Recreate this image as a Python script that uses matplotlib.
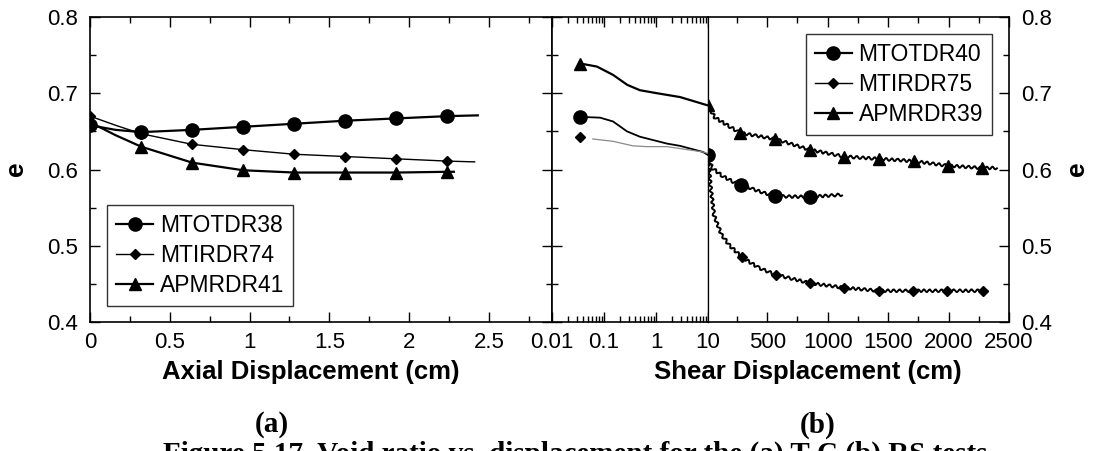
import matplotlib
matplotlib.use("Agg")
import matplotlib.pyplot as plt
from matplotlib.ticker import FixedLocator, MultipleLocator, NullFormatter, LogLocator
from matplotlib.lines import Line2D

plt.rcParams['font.family'] = ['Liberation Sans', 'DejaVu Sans']

# ---------------- (a) axial displacement ----------------
a_x_38 = [0, 0.16, 0.32, 0.64, 0.96, 1.28, 1.60, 1.92, 2.24, 2.43]
a_e_38 = [0.658, 0.652, 0.649, 0.652, 0.656, 0.660, 0.664, 0.667, 0.670, 0.671]
a_mk_38 = [0, 2, 3, 4, 5, 6, 7, 8]

a_x_74 = [0, 0.16, 0.32, 0.64, 0.96, 1.28, 1.60, 1.92, 2.24, 2.41]
a_e_74 = [0.670, 0.658, 0.647, 0.633, 0.626, 0.620, 0.617, 0.614, 0.611, 0.610]
a_mk_74 = [0, 2, 3, 4, 5, 6, 7, 8]

a_x_41 = [0, 0.16, 0.32, 0.64, 0.96, 1.28, 1.60, 1.92, 2.24, 2.28]
a_e_41 = [0.662, 0.645, 0.630, 0.609, 0.599, 0.596, 0.596, 0.596, 0.597, 0.597]
a_mk_41 = [2, 3, 4, 5, 6, 7, 8]

# ---------------- (b) shear displacement, log part (0.01-10 cm) ----------------
b_log_x_40 = [0.035, 0.084, 0.149, 0.277, 0.49, 1.62, 2.9, 8.0, 10]
b_log_e_40 = [0.669, 0.668, 0.663, 0.650, 0.643, 0.634, 0.631, 0.623, 0.619]

b_log_x_75 = [0.061, 0.149, 0.36, 0.67, 1.62, 8.0, 10]
b_log_e_75 = [0.640, 0.637, 0.631, 0.630, 0.630, 0.623, 0.621]
b_log_first_75 = (0.035, 0.642)

b_log_x_39 = [0.035, 0.073, 0.15, 0.28, 0.49, 1.05, 2.9, 10]
b_log_e_39 = [0.739, 0.735, 0.724, 0.711, 0.704, 0.700, 0.695, 0.684]

# ---------------- (b) shear displacement, linear part (10-2500 cm) ----------------
b_lin_x_40 = [10, 43, 134, 217, 283, 440, 564, 853, 1118]
b_lin_e_40 = [0.619, 0.602, 0.591, 0.584, 0.580, 0.571, 0.565, 0.564, 0.567]
b_lin_mk_40 = [0, 4, 6, 7]

b_lin_x_75 = [10, 30, 60, 120, 190, 291, 430, 572, 853, 1134, 1424, 1705, 1986, 2284, 2320]
b_lin_e_75 = [0.621, 0.580, 0.540, 0.515, 0.500, 0.485, 0.471, 0.462, 0.451, 0.445,
              0.441, 0.441, 0.441, 0.441, 0.442]
b_lin_mk_75 = [0, 5, 7, 8, 9, 10, 11, 12, 13]

b_lin_x_39 = [10, 68, 192, 275, 565, 850, 1135, 1425, 1710, 1995, 2280, 2400]
b_lin_e_39 = [0.684, 0.668, 0.656, 0.648, 0.640, 0.626, 0.617, 0.614, 0.611, 0.605, 0.602, 0.602]
b_lin_mk_39 = [0, 3, 4, 5, 6, 7, 8, 9, 10]

W, H = 1093, 451
fig = plt.figure(figsize=(W / 100, H / 100), dpi=100)

bottom = 1 - 322 / H
height = 305 / H
ax_a = fig.add_axes([90 / W, bottom, 462 / W, height])
ax_log = fig.add_axes([552 / W, bottom, 156 / W, height])
ax_lin = fig.add_axes([708 / W, bottom, 301 / W, height])

TICK_FS = 16
LW_SPINE = 1.2

circ = dict(marker='o', markersize=9.5, color='black')
diam = dict(marker='D', markersize=5.5, color='black')
tri = dict(marker='^', markersize=8.5, color='black')

# panel (a)
ax_a.plot(a_x_38, a_e_38, lw=1.6, markevery=a_mk_38, **circ)
ax_a.plot(a_x_74, a_e_74, lw=1.0, markevery=a_mk_74, **diam)
ax_a.plot(a_x_41, a_e_41, lw=1.6, markevery=a_mk_41, **tri)

ax_a.set_xlim(0, 2.895)
ax_a.set_ylim(0.4, 0.8)
ax_a.xaxis.set_major_locator(FixedLocator([0, 0.5, 1, 1.5, 2, 2.5]))
ax_a.set_xticklabels(['0', '0.5', '1', '1.5', '2', '2.5'])
ax_a.xaxis.set_minor_locator(MultipleLocator(0.25))
ax_a.yaxis.set_major_locator(FixedLocator([0.4, 0.5, 0.6, 0.7, 0.8]))
ax_a.set_yticklabels(['0.4', '0.5', '0.6', '0.7', '0.8'])
ax_a.yaxis.set_minor_locator(MultipleLocator(0.05))
ax_a.tick_params(which='both', direction='in', top=True, right=True, width=1.0,
                 labelsize=TICK_FS)
ax_a.tick_params(which='major', length=7)
ax_a.tick_params(which='minor', length=4)
ax_a.tick_params(axis='x', pad=7)
ax_a.tick_params(axis='y', pad=9)

leg_a = ax_a.legend(
    [Line2D([], [], lw=1.6, **circ), Line2D([], [], lw=1.0, **diam), Line2D([], [], lw=1.6, **tri)],
    ['MTOTDR38', 'MTIRDR74', 'APMRDR41'],
    loc='lower left', bbox_to_anchor=(0.037, 0.052), borderaxespad=0,
    fontsize=16.5, frameon=True, fancybox=False, handlelength=1.6,
    handletextpad=0.3, labelspacing=0.3, borderpad=0.4)
leg_a.get_frame().set_edgecolor('black')
leg_a.get_frame().set_linewidth(1.0)

# panel (b), logarithmic part
ax_log.plot(b_log_x_40, b_log_e_40, lw=1.3, color='black')
ax_log.plot([b_log_x_40[0]], [b_log_e_40[0]], linestyle='none', **circ)
ax_log.plot(b_log_x_75, b_log_e_75, lw=0.9, color='#8a8a8a')
ax_log.plot([b_log_first_75[0]], [b_log_first_75[1]], linestyle='none', **diam)
ax_log.plot(b_log_x_39, b_log_e_39, lw=1.6, color='black')
ax_log.plot([b_log_x_39[0]], [b_log_e_39[0]], linestyle='none', **tri)

ax_log.set_xscale('log')
ax_log.set_xlim(0.01, 10)
ax_log.set_ylim(0.4, 0.8)
ax_log.xaxis.set_major_locator(FixedLocator([0.01, 0.1, 1, 10]))
ax_log.set_xticklabels(['0.01', '0.1', '1', '10'])
ax_log.xaxis.set_minor_locator(LogLocator(base=10, subs=range(2, 10)))
ax_log.xaxis.set_minor_formatter(NullFormatter())
ax_log.yaxis.set_major_locator(FixedLocator([0.4, 0.5, 0.6, 0.7, 0.8]))
ax_log.yaxis.set_minor_locator(MultipleLocator(0.05))
ax_log.tick_params(which='both', direction='in', top=True, right=False, left=True,
                   labelleft=False, width=1.0, labelsize=TICK_FS, pad=7)
ax_log.tick_params(which='major', length=7)
ax_log.tick_params(which='minor', length=4)

# panel (b), linear part
for xs, es, mk, lw, style in [(b_lin_x_40, b_lin_e_40, b_lin_mk_40, 1.4, circ),
                              (b_lin_x_75, b_lin_e_75, b_lin_mk_75, 1.4, diam),
                              (b_lin_x_39, b_lin_e_39, b_lin_mk_39, 1.4, tri)]:
    ln, = ax_lin.plot(xs, es, lw=lw, color='black')
    ln.set_sketch_params(scale=1.4, length=6, randomness=1.2)
    ax_lin.plot(xs, es, linestyle='none', markevery=mk, **style)

ax_lin.set_xlim(10, 2500)
ax_lin.set_ylim(0.4, 0.8)
ax_lin.xaxis.set_major_locator(FixedLocator([500, 1000, 1500, 2000, 2500]))
ax_lin.set_xticklabels(['500', '1000', '1500', '2000', '2500'])
ax_lin.xaxis.set_minor_locator(FixedLocator([250, 750, 1250, 1750, 2250]))
ax_lin.yaxis.set_major_locator(FixedLocator([0.4, 0.5, 0.6, 0.7, 0.8]))
ax_lin.set_yticklabels(['0.4', '0.5', '0.6', '0.7', '0.8'])
ax_lin.yaxis.set_minor_locator(MultipleLocator(0.05))
ax_lin.yaxis.tick_right()
ax_lin.tick_params(which='both', direction='in', top=True, left=False, right=True,
                   labelright=True, labelleft=False, width=1.0, labelsize=TICK_FS)
ax_lin.tick_params(which='major', length=7)
ax_lin.tick_params(which='minor', length=4)
ax_lin.tick_params(axis='x', pad=7)
ax_lin.tick_params(axis='y', pad=9)
ax_lin.spines['left'].set_linewidth(0.9)
ax_log.spines['right'].set_linewidth(0.9)

leg_b = ax_lin.legend(
    [Line2D([], [], lw=1.6, **circ), Line2D([], [], lw=1.0, **diam), Line2D([], [], lw=1.6, **tri)],
    ['MTOTDR40', 'MTIRDR75', 'APMRDR39'],
    loc='upper right', bbox_to_anchor=(0.944, 0.944), borderaxespad=0,
    fontsize=16.5, frameon=True, fancybox=False, handlelength=1.6,
    handletextpad=0.3, labelspacing=0.3, borderpad=0.4)
leg_b.get_frame().set_edgecolor('black')
leg_b.get_frame().set_linewidth(1.0)

for ax in (ax_a, ax_log, ax_lin):
    for name, sp in ax.spines.items():
        if not (ax is ax_lin and name == 'left') and not (ax is ax_log and name == 'right'):
            sp.set_linewidth(LW_SPINE)

# y-axis titles on both outer sides
fig.text(16 / W, 1 - 169 / H, 'e', rotation=90, ha='center', va='center',
         fontsize=19, fontweight='bold')
fig.text(1077 / W, 1 - 169 / H, 'e', rotation=90, ha='center', va='center',
         fontsize=19, fontweight='bold')

# axis titles and panel captions
fig.text(311 / W, 1 - 372 / H, 'Axial Displacement (cm)', ha='center', va='center',
         fontsize=18.5, fontweight='bold')
fig.text(808 / W, 1 - 372 / H, 'Shear Displacement (cm)', ha='center', va='center',
         fontsize=18.5, fontweight='bold')
serif = ['Liberation Serif', 'DejaVu Serif']
fig.text(272 / W, 1 - 425 / H, '(a)', ha='center', va='center', fontsize=21,
         fontweight='bold', family=serif)
fig.text(818 / W, 1 - 425 / H, '(b)', ha='center', va='center', fontsize=21,
         fontweight='bold', family=serif)
fig.text(163 / W, 1 - 441 / H,
         'Figure 5.17  Void ratio vs. displacement for the (a) T-C (b) RS tests',
         ha='left', va='top', fontsize=21, fontweight='bold', family=serif)

fig.savefig('out.png', dpi=100)
